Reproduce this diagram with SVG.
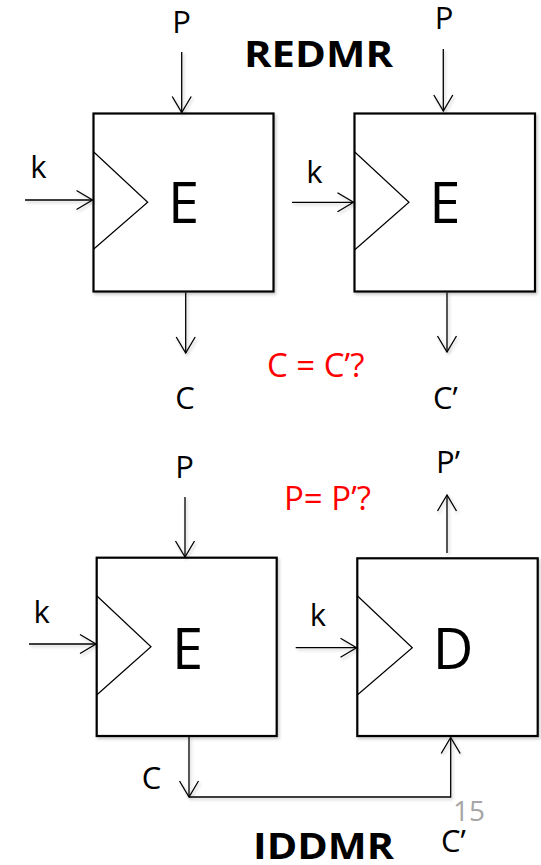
<svg xmlns="http://www.w3.org/2000/svg" width="541" height="865" viewBox="0 0 541 865">
  <style>
    .box { fill: #ffffff; stroke: #000000; stroke-width: 2.2; }
    .tri { fill: none; stroke: #000000; stroke-width: 1.2; }
    .wire { fill: none; stroke: #000000; stroke-width: 1.3; }
    .arrow { marker-end: url(#head); }
    .lbl { font-family: "Open Sans", "Liberation Sans", sans-serif; font-size: 31px; fill: #000000; }
    .big { font-family: "Open Sans", "Liberation Sans", sans-serif; font-size: 56px; fill: #000000; text-anchor: middle; }
    .q { font-family: "Open Sans", "Liberation Sans", sans-serif; font-size: 33px; fill: #ff0000; }
    .title { font-family: "Open Sans", "Liberation Sans", sans-serif; font-size: 36px; font-weight: 700; fill: #000000; }
    .pg { font-family: "Open Sans", "Liberation Sans", sans-serif; font-size: 28px; fill: #a6a6a6; }
    .mid { text-anchor: middle; }
  </style>
  <defs>
    <filter id="shade" filterUnits="userSpaceOnUse" x="0" y="0" width="541" height="865">
      <feDropShadow dx="1.5" dy="2" stdDeviation="1.5" flood-color="#000000" flood-opacity="0.22"/>
    </filter>
    <marker id="head" markerUnits="userSpaceOnUse" viewBox="-18 -11 20 22" refX="0" refY="0" markerWidth="20" markerHeight="22" orient="auto" overflow="visible">
      <path d="M-16,-9.5 L0,0 L-16,9.5" fill="none" stroke="#000000" stroke-width="1.3"/>
    </marker>
  </defs>

  <!-- titles -->
  <text class="title" x="244" y="67" textLength="149" lengthAdjust="spacingAndGlyphs">REDMR</text>
  <text class="title" x="253" y="859" textLength="141" lengthAdjust="spacingAndGlyphs">IDDMR</text>

  <!-- REDMR: first encryptor -->
  <g id="enc1" filter="url(#shade)">
    <rect class="box" x="93.5" y="113.5" width="180" height="178"/>
    <polyline class="tri" points="93.5,151.7 147.7,202.3 93.5,249.3"/>
    <text class="big" x="183.5" y="222.7">E</text>
  </g>

  <!-- REDMR: second encryptor -->
  <g id="enc2" filter="url(#shade)">
    <rect class="box" x="354.5" y="113.5" width="180.5" height="178"/>
    <polyline class="tri" points="354.5,151.7 409,202.3 354.5,250"/>
    <text class="big" x="444.7" y="223.3">E</text>
  </g>

  <!-- IDDMR: encryptor -->
  <g id="enc3" filter="url(#shade)">
    <rect class="box" x="96.7" y="557.7" width="180" height="178.3"/>
    <polyline class="tri" points="96.7,595.7 151,646.7 96.7,695"/>
    <text class="big" x="187.5" y="669">E</text>
  </g>

  <!-- IDDMR: decryptor -->
  <g id="dec" filter="url(#shade)">
    <rect class="box" x="357.3" y="558.3" width="180.4" height="177.7"/>
    <polyline class="tri" points="357.3,595.7 412.3,647.7 357.3,695"/>
    <text class="big" x="453" y="669">D</text>
  </g>

  <!-- signal wiring -->
  <g id="connectors" filter="url(#shade)">
    <line class="wire arrow" x1="181.7" y1="52" x2="181.7" y2="112.5"/>
    <line class="wire arrow" x1="443.3" y1="49" x2="443.3" y2="111"/>
    <line class="wire arrow" x1="25" y1="200" x2="92.5" y2="200"/>
    <line class="wire arrow" x1="292" y1="202.3" x2="353.5" y2="202.3"/>
    <line class="wire arrow" x1="185.7" y1="292.5" x2="185.7" y2="353"/>
    <line class="wire arrow" x1="447" y1="292.5" x2="447" y2="352"/>
    <line class="wire arrow" x1="185" y1="497" x2="185" y2="557"/>
    <line class="wire arrow" x1="447" y1="553" x2="447" y2="495"/>
    <line class="wire arrow" x1="29" y1="644" x2="96" y2="644"/>
    <line class="wire arrow" x1="295.7" y1="647.7" x2="356.5" y2="647.7"/>
    <line class="wire arrow" x1="189" y1="737" x2="189" y2="797"/>
    <polyline class="wire arrow" points="189,797 450.7,797 450.7,737.5"/>
  </g>

  <!-- signal labels -->
  <g id="labels">
    <text class="lbl mid" x="181.5" y="33">P</text>
    <text class="lbl mid" x="444" y="29">P</text>
    <text class="lbl mid" x="38.5" y="178">k</text>
    <text class="lbl mid" x="314.5" y="183">k</text>
    <text class="lbl mid" x="185" y="409">C</text>
    <text class="lbl" x="433" y="409">C’</text>
    <text class="lbl mid" x="184.5" y="478">P</text>
    <text class="lbl" x="436" y="473">P’</text>
    <text class="lbl mid" x="41.7" y="623">k</text>
    <text class="lbl mid" x="318" y="626">k</text>
    <text class="lbl mid" x="151.5" y="789">C</text>
    <text class="lbl" x="441" y="852">C’</text>
    <text class="q" x="267" y="377">C = C’?</text>
    <text class="q" x="284" y="510">P= P’?</text>
    <text class="pg" x="453" y="821">15</text>
  </g>
</svg>
